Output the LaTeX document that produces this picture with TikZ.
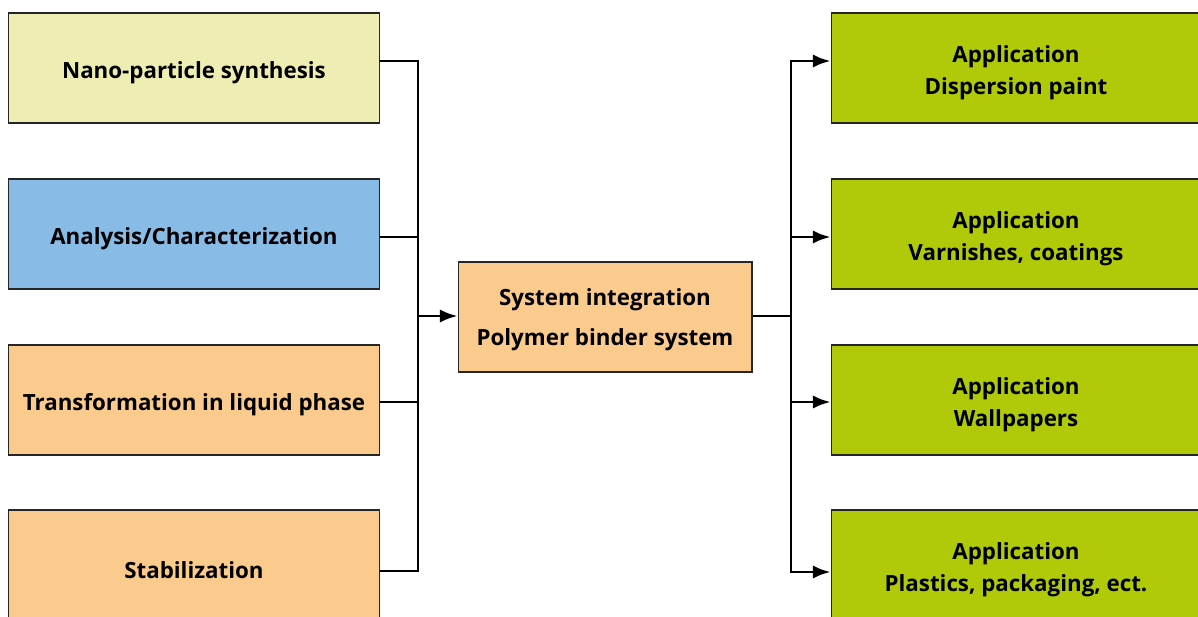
\documentclass[tikz,border=0pt]{standalone}
\usepackage{fontspec}
\setmainfont{Open Sans}
\usetikzlibrary{arrows.meta,calc,positioning}
\definecolor{synthyellow}{HTML}{EEEEB4}
\definecolor{analysisblue}{HTML}{88BBE6}
\definecolor{peach}{HTML}{FBCB8E}
\definecolor{appgreen}{HTML}{B0CA0A}
\newcommand{\toppad}[1][15pt]{\rule{0pt}{#1}}
\tikzstyle{stepbox} = [rectangle, draw=black!85, line width=0.6pt, text centered, align=center, minimum width=7.44cm, minimum height=2.2cm, font=\fontsize{12.7}{18.5}\selectfont\bfseries]
\tikzstyle{appbox} = [stepbox, fill=appgreen, minimum width=7.4cm]
\tikzstyle{bus} = [draw, line width=1.5pt]
\tikzstyle{connector} = [draw, line width=1.5pt, -{Latex[length=10pt, width=7.5pt]}]

\begin{document}
\begin{tikzpicture}[x=0.02cm, y=-0.02cm]
        \useasboundingbox (0, 0) rectangle (1198, 616);

        \node[stepbox, fill=synthyellow] (synthesis) at (194, 68) {\toppad Nano-particle synthesis};
        \node[stepbox, fill=analysisblue] (analysis) at (194, 234) {\toppad Analysis/Characterization};
        \node[stepbox, fill=peach] (transformation) at (194, 400) {\toppad Transformation in liquid phase};
        \node[stepbox, fill=peach] (stabilization) at (194, 565) {\toppad Stabilization};

        \node[stepbox, fill=peach, minimum width=5.88cm, font=\fontsize{12.7}{22.5}\selectfont\bfseries] (integration) at (605, 317) {\toppad[12.5pt]System integration\\Polymer binder system};

        \node[appbox] (paint) at (1016, 68) {\toppad Application\\Dispersion paint};
        \node[appbox] (varnish) at (1016, 234) {\toppad Application\\Varnishes, coatings};
        \node[appbox] (wallpaper) at (1016, 400) {\toppad Application\\Wallpapers};
        \node[appbox] (plastics) at (1016, 565) {\toppad Application\\Plastics, packaging, ect.};

        \coordinate (leftbus) at (418, 316);
        \coordinate (rightbus) at (791, 316);

        % left side joins the bus
        \draw[bus] ($(synthesis.east)+(0,-7)$) -| (leftbus);
        \draw[bus] ($(analysis.east)+(0,3)$) -| (leftbus);
        \draw[bus] ($(transformation.east)+(0,2)$) -| (leftbus);
        \draw[bus] ($(stabilization.east)+(0,6)$) -| (leftbus);
        \draw[connector] (leftbus) -- (integration.west |- leftbus);

        % right side fans out
        \draw[bus] (integration.east |- rightbus) -- (rightbus);
        \draw[connector] (rightbus) |- ($(paint.west)+(0,-7)$);
        \draw[connector] (rightbus) |- ($(varnish.west)+(0,3)$);
        \draw[connector] (rightbus) |- ($(wallpaper.west)+(0,2)$);
        \draw[connector] (rightbus) |- ($(plastics.west)+(0,7)$);

    \end{tikzpicture}
\end{document}
